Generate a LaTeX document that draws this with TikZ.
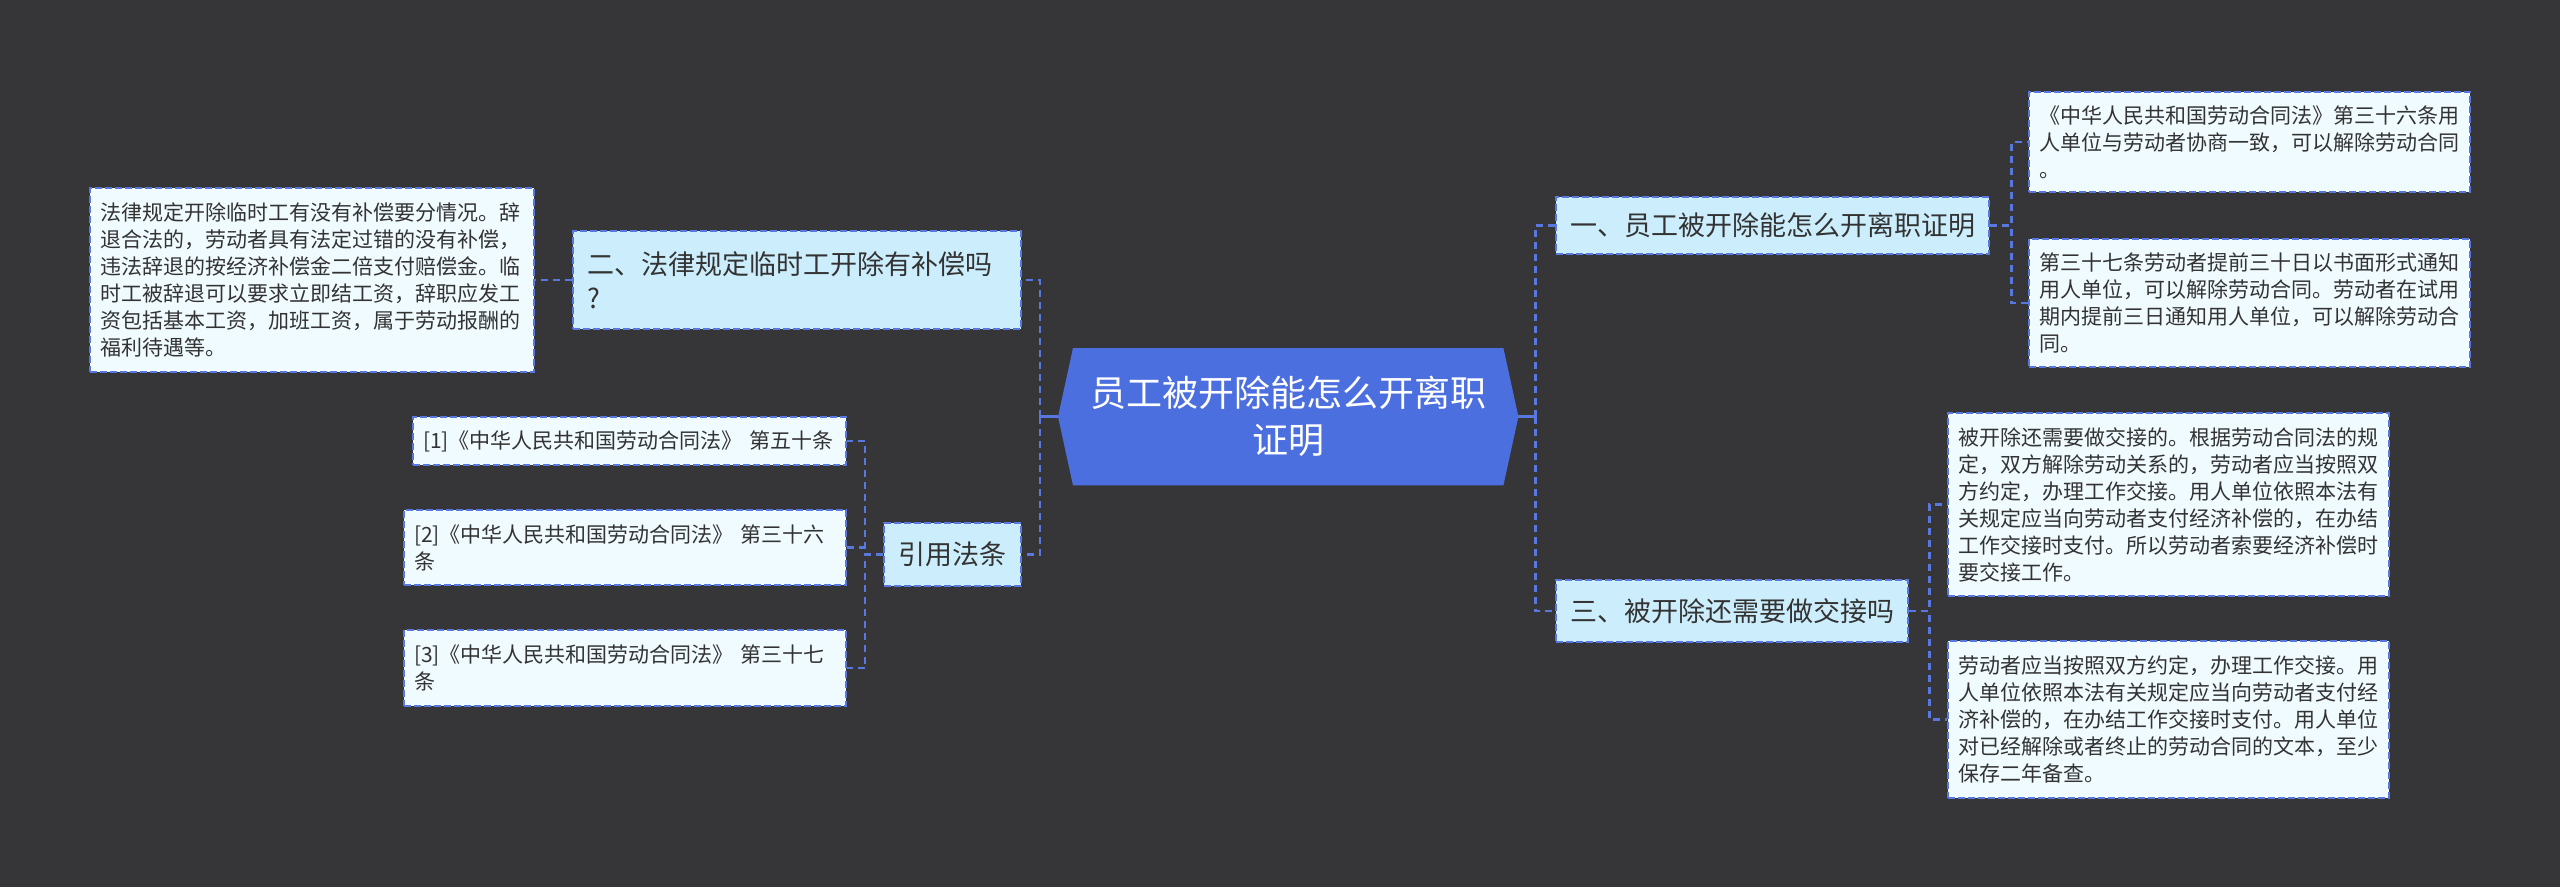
\documentclass[tikz,border=0pt]{standalone}
\usepackage{fontspec}
\setmainfont{Noto Sans CJK SC}
\usetikzlibrary{calc}
\definecolor{bgdark}{HTML}{363538}
\definecolor{rootblue}{HTML}{4C6FE0}
\definecolor{linkblue}{HTML}{5878E0}
\definecolor{catfill}{HTML}{CCEEFC}
\definecolor{leaffill}{HTML}{F0FBFF}
\definecolor{inkgray}{HTML}{333333}
\pgfdeclarelayer{background}
\pgfsetlayers{background,main}

\begin{document}
\begin{tikzpicture}[x=1pt,y=-1pt,
 stub/.style={linkblue,line width=2.6pt},
 link/.style={stub,dash pattern=on 7pt off 5pt},
 cat/.style={draw=linkblue,fill=catfill,line width=2.2pt,dash pattern=on 7pt off 3pt,text=inkgray,anchor=north west,align=left,inner xsep=14pt,inner ysep=0pt,font=\fontsize{27}{34}\selectfont},
 leaf/.style={cat,fill=leaffill,inner xsep=10pt,font=\fontsize{21}{27}\selectfont}]
 % centre
 \node[anchor=north west,text=white,align=center,text width=400pt,inner xsep=15pt,inner ysep=0pt,minimum height=137pt,font=\fontsize{36}{47}\selectfont] (root) at (1073,348) {员工被开除能怎么开离职\\证明};
 \coordinate (rootR) at ($(root.east)+(15,0)$); \coordinate (rootL) at ($(root.west)+(-15,0)$);
 \coordinate (hubR) at ($(rootR)+(17,0)$); \coordinate (hubL) at ($(rootL)+(-18,0)$);
 \begin{pgfonlayer}{background}
  \fill[bgdark] (0,0) rectangle (2560,887);
  \fill[rootblue] (root.north west) -- (root.north east) -- (rootR) -- (root.south east) -- (root.south west) -- (rootL) -- cycle;
 \end{pgfonlayer}
 % right side
 \node[cat,text width=405pt,minimum height=57pt] (r1) at (1555,196) {一、员工被开除能怎么开离职证明};
 \node[leaf,text width=421pt,minimum height=100pt] (r1a) at (2028,91) {《中华人民共和国劳动合同法》第三十六条用\\人单位与劳动者协商一致，可以解除劳动合同\\。};
 \node[leaf,text width=421pt,minimum height=128pt] (r1b) at (2028,238) {第三十七条劳动者提前三十日以书面形式通知\\用人单位，可以解除劳动合同。劳动者在试用\\期内提前三日通知用人单位，可以解除劳动合\\同。};
 \node[cat,text width=324pt,minimum height=62pt] (r3) at (1555,579) {三、被开除还需要做交接吗};
 \node[leaf,text width=421pt,minimum height=183pt] (r3a) at (1947,412) {被开除还需要做交接的。根据劳动合同法的规\\定，双方解除劳动关系的，劳动者应当按照双\\方约定，办理工作交接。用人单位依照本法有\\关规定应当向劳动者支付经济补偿的，在办结\\工作交接时支付。所以劳动者索要经济补偿时\\要交接工作。};
 \node[leaf,text width=421pt,minimum height=157pt] (r3b) at (1947,640) {劳动者应当按照双方约定，办理工作交接。用\\人单位依照本法有关规定应当向劳动者支付经\\济补偿的，在办结工作交接时支付。用人单位\\对已经解除或者终止的劳动合同的文本，至少\\保存二年备查。};
 % left side
 \node[cat,text width=420pt,minimum height=98pt] (l2) at (572,230) {二、法律规定临时工开除有补偿吗\\?};
 \node[leaf,text width=424pt,minimum height=184pt] (l2a) at (89,187) {法律规定开除临时工有没有补偿要分情况。辞\\退合法的，劳动者具有法定过错的没有补偿，\\违法辞退的按经济补偿金二倍支付赔偿金。临\\时工被辞退可以要求立即结工资，辞职应发工\\资包括基本工资，加班工资，属于劳动报酬的\\福利待遇等。};
 \node[cat,text width=109pt,minimum height=63pt] (l4) at (883,522) {引用法条};
 \node[leaf,text width=413pt,minimum height=48pt] (l4a) at (412,416) {[1]《中华人民共和国劳动合同法》 第五十条};
 \node[leaf,text width=422pt,minimum height=75pt] (l4b) at (403,509) {[2]《中华人民共和国劳动合同法》 第三十六\\条};
 \node[leaf,text width=422pt,minimum height=76pt] (l4c) at (403,629) {[3]《中华人民共和国劳动合同法》 第三十七\\条};
 % links
 \draw[stub] (rootR) -- (hubR); \draw[stub] (rootL) -- (hubL);
 \foreach \kid in {r1,r3} \draw[link] (hubR) |- (\kid.west);
 \foreach \kid in {l2,l4} \draw[link] (hubL) |- (\kid.east);
 \foreach \kid in {r1a,r1b} \draw[link] (r1.east) -- ++(21,0) |- (\kid.west);
 \foreach \kid in {r3a,r3b} \draw[link] (r3.east) -- ++(20,0) |- (\kid.west);
 \draw[link] (l2.west) -- (l2a.east);
 \foreach \kid in {l4a,l4b,l4c} \draw[link] (l4.west) -- ++(-18,0) |- (\kid.east);
\end{tikzpicture}
\end{document}
